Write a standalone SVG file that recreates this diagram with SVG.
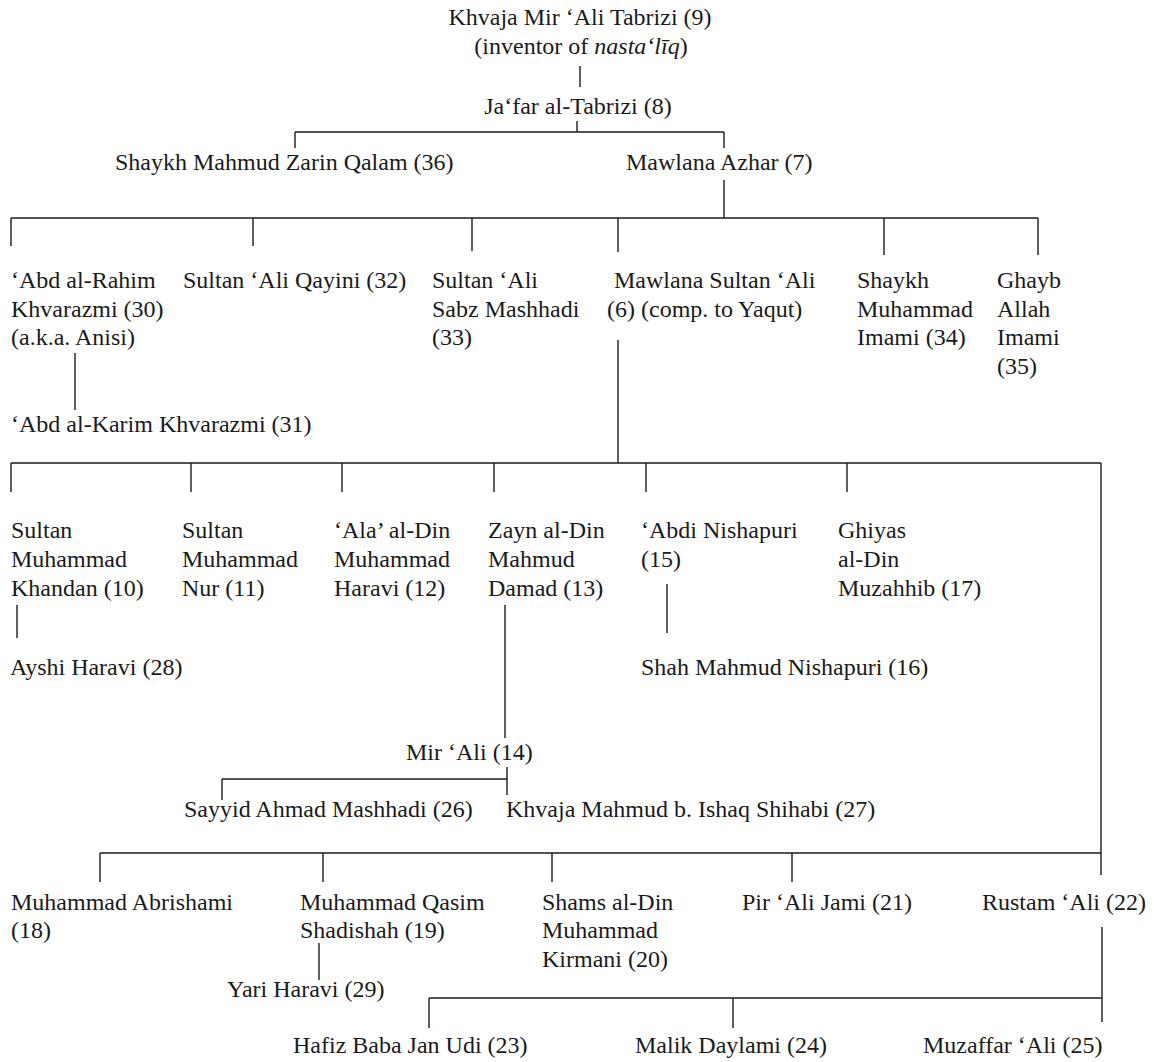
<svg xmlns="http://www.w3.org/2000/svg" width="1154" height="1062" viewBox="0 0 1154 1062">
<style>
text{font-family:'Liberation Serif',serif;font-size:24px;fill:#1a1a1a}
.m{text-anchor:middle}
#connectors line{stroke:#1a1a1a;stroke-width:1.4;fill:none}
</style>
<rect width="1154" height="1062" fill="#ffffff"/>
<g id="connectors">
<line x1="580" y1="66" x2="580" y2="87"/>
<line x1="577" y1="121" x2="577" y2="132"/>
<line x1="295" y1="132" x2="724" y2="132"/>
<line x1="295" y1="132" x2="295" y2="148"/>
<line x1="724" y1="132" x2="724" y2="148"/>
<line x1="724" y1="180" x2="724" y2="218"/>
<line x1="11" y1="218" x2="1038" y2="218"/>
<line x1="11" y1="218" x2="11" y2="246"/>
<line x1="253" y1="218" x2="253" y2="246"/>
<line x1="472" y1="218" x2="472" y2="251"/>
<line x1="618" y1="218" x2="618" y2="252"/>
<line x1="884" y1="218" x2="884" y2="255"/>
<line x1="1038" y1="218" x2="1038" y2="255"/>
<line x1="75" y1="353" x2="75" y2="410"/>
<line x1="618" y1="340" x2="618" y2="463"/>
<line x1="11" y1="463" x2="1101" y2="463"/>
<line x1="11" y1="463" x2="11" y2="492"/>
<line x1="191" y1="463" x2="191" y2="492"/>
<line x1="342" y1="463" x2="342" y2="492"/>
<line x1="494" y1="463" x2="494" y2="492"/>
<line x1="646" y1="463" x2="646" y2="492"/>
<line x1="847" y1="463" x2="847" y2="492"/>
<line x1="1101" y1="463" x2="1101" y2="875"/>
<line x1="17" y1="605" x2="17" y2="638"/>
<line x1="667" y1="584" x2="667" y2="633"/>
<line x1="505" y1="605" x2="505" y2="738"/>
<line x1="507" y1="767" x2="507" y2="795"/>
<line x1="222" y1="779" x2="507" y2="779"/>
<line x1="222" y1="779" x2="222" y2="800"/>
<line x1="100" y1="853" x2="1101" y2="853"/>
<line x1="100" y1="853" x2="100" y2="882"/>
<line x1="323" y1="853" x2="323" y2="882"/>
<line x1="552" y1="853" x2="552" y2="882"/>
<line x1="792" y1="853" x2="792" y2="882"/>
<line x1="319" y1="943" x2="319" y2="980"/>
<line x1="1102" y1="927" x2="1102" y2="1022"/>
<line x1="429" y1="998" x2="1102" y2="998"/>
<line x1="429" y1="998" x2="429" y2="1028"/>
<line x1="733" y1="998" x2="733" y2="1028"/>
</g>
<g font-family="Liberation Serif, serif">
<g id="n9"><text class="m" x="580" y="25">Khvaja Mir ‘Ali Tabrizi (9)</text><text class="m" x="581" y="54">(inventor of <tspan font-style="italic">nasta‘līq</tspan>)</text></g>
<g id="n8"><text class="m" x="578" y="114">Ja‘far al-Tabrizi (8)</text></g>
<g id="n36"><text x="115" y="170">Shaykh Mahmud Zarin Qalam (36)</text></g>
<g id="n7"><text x="626" y="170">Mawlana Azhar (7)</text></g>
<g id="n30"><text x="11" y="288">‘Abd al-Rahim</text><text x="11" y="317">Khvarazmi (30)</text><text x="11" y="345">(a.k.a. Anisi)</text></g>
<g id="n32"><text x="183" y="288">Sultan ‘Ali Qayini (32)</text></g>
<g id="n33"><text x="432" y="288">Sultan ‘Ali</text><text x="432" y="317">Sabz Mashhadi</text><text x="432" y="345">(33)</text></g>
<g id="n6"><text x="614" y="288">Mawlana Sultan ‘Ali</text><text x="607" y="317">(6) (comp. to Yaqut)</text></g>
<g id="n34"><text x="857" y="288">Shaykh</text><text x="857" y="317">Muhammad</text><text x="857" y="345">Imami (34)</text></g>
<g id="n35"><text x="997" y="288">Ghayb</text><text x="997" y="317">Allah</text><text x="997" y="345">Imami</text><text x="997" y="374">(35)</text></g>
<g id="n31"><text x="11" y="432">‘Abd al-Karim Khvarazmi (31)</text></g>
<g id="n10"><text x="11" y="538">Sultan</text><text x="11" y="567">Muhammad</text><text x="11" y="596">Khandan (10)</text></g>
<g id="n11"><text x="182" y="538">Sultan</text><text x="182" y="567">Muhammad</text><text x="182" y="596">Nur (11)</text></g>
<g id="n12"><text x="334" y="538">‘Ala’ al-Din</text><text x="334" y="567">Muhammad</text><text x="334" y="596">Haravi (12)</text></g>
<g id="n13"><text x="488" y="538">Zayn al-Din</text><text x="488" y="567">Mahmud</text><text x="488" y="596">Damad (13)</text></g>
<g id="n15"><text x="641" y="538">‘Abdi Nishapuri</text><text x="641" y="567">(15)</text></g>
<g id="n17"><text x="838" y="538">Ghiyas</text><text x="838" y="567">al-Din</text><text x="838" y="596">Muzahhib (17)</text></g>
<g id="n28"><text x="10" y="675">Ayshi Haravi (28)</text></g>
<g id="n16"><text x="641" y="675">Shah Mahmud Nishapuri (16)</text></g>
<g id="n14"><text x="406" y="760">Mir ‘Ali (14)</text></g>
<g id="n26"><text x="184" y="817">Sayyid Ahmad Mashhadi (26)</text></g>
<g id="n27"><text x="506" y="817">Khvaja Mahmud b. Ishaq Shihabi (27)</text></g>
<g id="n18"><text x="11" y="910">Muhammad Abrishami</text><text x="11" y="938">(18)</text></g>
<g id="n19"><text x="300" y="910">Muhammad Qasim</text><text x="300" y="938">Shadishah (19)</text></g>
<g id="n20"><text x="542" y="910">Shams al-Din</text><text x="542" y="938">Muhammad</text><text x="542" y="967">Kirmani (20)</text></g>
<g id="n21"><text x="742" y="910">Pir ‘Ali Jami (21)</text></g>
<g id="n22"><text x="982" y="910">Rustam ‘Ali (22)</text></g>
<g id="n29"><text x="227" y="997">Yari Haravi (29)</text></g>
<g id="n23"><text x="293" y="1053">Hafiz Baba Jan Udi (23)</text></g>
<g id="n24"><text x="635" y="1053">Malik Daylami (24)</text></g>
<g id="n25"><text x="923" y="1053">Muzaffar ‘Ali (25)</text></g>
</g>
</svg>
